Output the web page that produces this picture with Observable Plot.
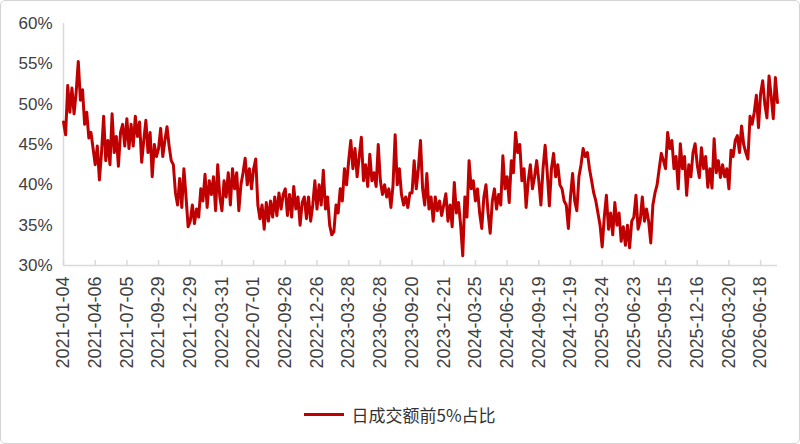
<!DOCTYPE html>
<html>
<head>
<meta charset="utf-8">
<script src="https://cdn.jsdelivr.net/npm/d3@7"></script>
<script src="https://cdn.jsdelivr.net/npm/@observablehq/plot@0.6"></script>
<style>
  body { margin: 0; background: #fff; }
  #wrap { position: relative; width: 800px; height: 444px; overflow: hidden; }
  #frame { position: absolute; inset: 0; border: 1px solid #d4d4d4; border-radius: 5px; pointer-events: none; }
  #legend { display: flex; justify-content: center; align-items: center; margin-top: 17px;
    font-family: "Noto Sans CJK SC", "Liberation Sans", sans-serif; font-size: 17px; color: #333; }
  #legend .sw { width: 40px; height: 3px; background: #c00000; margin-right: 7px; }
</style>
</head>
<body>
<div id="wrap">
  <div id="chart"></div>
  <div id="legend"><span class="sw"></span><span>日成交额前5%占比</span></div>
  <div id="frame"></div>
</div>
<script>
// x tick labels, one every 60 trading days
const tickLabels = ["2021-01-04", "2021-04-06", "2021-07-05", "2021-09-29", "2021-12-29",
  "2022-03-31", "2022-07-01", "2022-09-26", "2022-12-26", "2023-03-28", "2023-06-28",
  "2023-09-20", "2023-12-21", "2024-03-25", "2024-06-25", "2024-09-19", "2024-12-19",
  "2025-03-24", "2025-06-23", "2025-09-15", "2025-12-16", "2026-03-20", "2026-06-18"];
const tickEvery = 60;
const step = 4; // trading days between readings

// share of turnover (%), one row per tick interval
const share = [
  47.8, 46.2, 52.3, 49.0, 52.0, 48.8, 51.5, 55.3, 50.5, 51.8, 47.5, 49.0, 45.8, 46.5, 44.5,
  42.5, 44.8, 40.6, 44.0, 48.5, 43.0, 45.5, 42.5, 48.8, 44.0, 46.0, 42.3, 46.5, 47.5, 44.8,
  48.2, 44.5, 47.5, 44.8, 48.5, 46.0, 47.8, 42.8, 45.5, 48.0, 44.0, 46.5, 41.0, 45.0, 43.5,
  44.5, 47.0, 43.5, 45.5, 47.2, 44.8, 43.0, 42.5, 39.0, 37.5, 40.8, 37.2, 42.0, 38.5, 34.8,
  35.5, 37.5, 35.2, 37.0, 36.0, 39.5, 38.0, 41.3, 37.2, 40.5, 38.8, 41.0, 36.8, 42.5, 38.5,
  36.8, 40.5, 38.5, 41.5, 37.5, 42.0, 39.5, 41.5, 36.8, 40.0, 41.5, 43.3, 40.0, 42.0, 39.5,
  42.0, 43.2, 37.5, 35.8, 37.5, 34.5, 37.8, 35.5, 38.0, 36.0, 38.5, 36.2, 39.0, 37.0, 38.8,
  39.5, 36.2, 38.8, 36.0, 39.8, 37.0, 38.5, 35.0, 37.8, 38.5, 35.8, 38.5, 35.5, 37.5, 40.5,
  37.0, 40.0, 37.5, 41.8, 37.0, 38.5, 35.0, 33.8, 34.2, 37.5, 36.5, 39.5, 38.0, 42.0, 40.0,
  43.0, 45.5, 42.0, 44.5, 41.0, 43.5, 45.9, 40.5, 42.5, 39.8, 43.8, 40.5, 41.5, 39.8, 45.0,
  40.5, 38.8, 40.0, 38.5, 39.5, 37.2, 40.0, 46.2, 40.0, 42.0, 38.8, 37.5, 38.5, 37.2, 39.0,
  39.0, 43.0, 39.5, 42.0, 45.5, 39.5, 37.5, 41.4, 37.0, 38.5, 35.5, 38.5, 36.8, 38.0, 36.2,
  37.5, 38.9, 35.5, 37.5, 34.8, 40.3, 36.5, 37.8, 35.0, 31.2, 38.5, 36.0, 43.0, 39.5, 40.5,
  38.0, 39.5, 36.5, 34.6, 38.5, 40.0, 36.5, 34.0, 38.0, 39.5, 37.0, 38.8, 37.5, 43.6, 39.5,
  41.0, 37.8, 43.0, 41.5, 46.5, 44.0, 45.0, 40.5, 42.0, 37.2, 40.5, 42.5, 39.5, 41.0, 43.0,
  40.5, 37.5, 42.0, 44.9, 41.5, 37.4, 42.0, 43.9, 41.0, 42.5, 40.0, 39.5, 38.0, 37.5, 34.6,
  38.5, 41.4, 38.0, 36.8, 41.0, 42.5, 44.5, 43.5, 44.0, 42.0, 40.5, 39.0, 38.0, 36.5, 35.0,
  32.3, 36.0, 38.7, 34.5, 36.5, 33.8, 37.8, 35.0, 36.5, 33.0, 34.8, 32.5, 35.0, 32.2, 35.5,
  36.0, 38.7, 34.5, 35.5, 38.5, 35.5, 37.0, 35.5, 32.8, 37.5, 39.0, 40.0, 42.0, 43.9, 43.0,
  42.0, 46.5, 44.5, 45.5, 42.0, 43.5, 39.5, 45.1, 42.0, 43.5, 38.7, 42.5, 41.0, 44.0, 45.1,
  42.5, 40.9, 44.6, 42.0, 43.5, 39.7, 42.0, 39.6, 45.7, 41.5, 43.0, 40.9, 42.5, 41.0, 42.0,
  39.5, 44.3, 43.5, 45.5, 46.1, 44.0, 47.3, 45.0, 44.0, 43.2, 48.5, 47.5, 49.0, 51.1, 47.1,
  51.3, 52.9, 50.0, 48.3, 53.5, 51.0, 48.2, 53.3, 50.2
];
const yTicks = [30, 35, 40, 45, 50, 55, 60];

const data = share.map((v, i) => ({day: i * step, v}));
const tickDays = tickLabels.map((_, k) => k * tickEvery);

const h = 385, mTop = 23, mBottom = 120;
const axisColor = "#d9d9d9";

let chart = Plot.plot({
  width: 800,
  height: h,
  marginLeft: 63,
  marginRight: 23,
  marginTop: mTop,
  marginBottom: mBottom,
  style: {fontFamily: "'Liberation Sans', Arial, sans-serif", color: "#404040", background: "transparent"},
  x: {domain: [0, (share.length - 1) * step]},
  y: {domain: [30, 60]},
  marks: [
    Plot.ruleY([30], {stroke: axisColor, strokeWidth: 1.5}),
    Plot.ruleX([0], {stroke: axisColor, strokeWidth: 1.5}),
    Plot.tickX(tickDays, {x: d => d, stroke: axisColor, strokeWidth: 1.5, insetTop: h - mTop - mBottom - 5}),
    Plot.axisY({ticks: yTicks, tickFormat: d => d + "%", tickSize: 0, tickPadding: 11, fontSize: 17, label: null}),
    Plot.axisX({ticks: tickDays, tickFormat: d => tickLabels[d / tickEvery], tickRotate: -90,
      tickSize: 0, tickPadding: 11, fontSize: 18, label: null}),
    Plot.line(data, {x: "day", y: "v", stroke: "#c00000", strokeWidth: 3, strokeLinejoin: "round"})
  ]
})
d3.select('#chart').append(() => chart)
</script>
</body>
</html>
